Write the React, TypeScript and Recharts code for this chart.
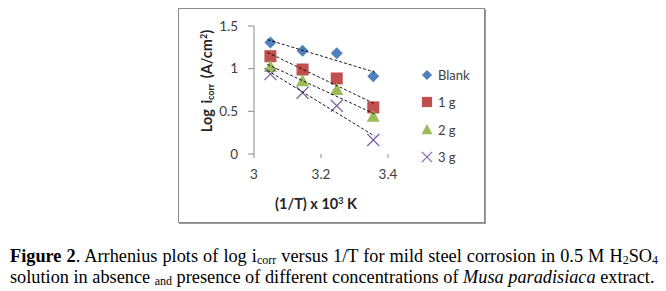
import { ScatterChart, Scatter, XAxis, YAxis, Legend } from 'recharts';

// 1/T (x 10^3 K^-1)
const invT = [3.049, 3.145, 3.247, 3.356];

// log i_corr
const blank = [1.306, 1.21, 1.18, 0.91];
const g1 = [1.146, 0.99, 0.885, 0.546];
const g2 = [1.02, 0.853, 0.75, 0.436];
const g3 = [0.936, 0.717, 0.565, 0.164];

// linear trendline ends
const trendX = [3.04, 3.36];
const blankTrend = [1.34, 0.96];
const g1Trend = [1.19, 0.59];
const g2Trend = [1.05, 0.47];
const g3Trend = [0.98, 0.21];

const xTicks = [3, 3.2, 3.4];
const yTicks = [0, 0.5, 1, 1.5];

const BLUE = '#4f81bd';
const RED = '#c0504d';
const GREEN = '#9bbb59';
const PURPLE = '#8064a2';

const chartFont = 'Lato, "Open Sans", sans-serif';

const toPoints = (xs: number[], ys: number[]) => xs.map((x, i) => ({ x, y: ys[i] }));

type MarkProps = { cx?: number; cy?: number };

const Diamond = ({ cx = 0, cy = 0 }: MarkProps) => (
  <polygon
    points={`${cx},${cy - 6} ${cx + 6},${cy} ${cx},${cy + 6} ${cx - 6},${cy}`}
    fill={BLUE}
  />
);
const Square = ({ cx = 0, cy = 0 }: MarkProps) => (
  <rect x={cx - 6} y={cy - 6} width={12} height={12} fill={RED} />
);
const Triangle = ({ cx = 0, cy = 0 }: MarkProps) => (
  <polygon
    points={`${cx},${cy - 7} ${cx + 6.5},${cy + 5} ${cx - 6.5},${cy + 5}`}
    fill={GREEN}
  />
);
const Cross = ({ cx = 0, cy = 0 }: MarkProps) => (
  <g stroke={PURPLE} strokeWidth={1.3}>
    <line x1={cx - 6} y1={cy - 6} x2={cx + 6} y2={cy + 6} />
    <line x1={cx - 6} y1={cy + 6} x2={cx + 6} y2={cy - 6} />
  </g>
);
const NoMark = () => <g />;

const legendItems = [
  { name: 'Blank', Mark: Diamond },
  { name: '1 g', Mark: Square },
  { name: '2 g', Mark: Triangle },
  { name: '3 g', Mark: Cross },
];

function LegendBox() {
  return (
    <div style={{ fontFamily: chartFont, fontSize: 13, color: '#404040' }}>
      {legendItems.map(({ name, Mark }) => (
        <div key={name} style={{ display: 'flex', alignItems: 'center', height: 27.5 }}>
          <svg width={16} height={16} style={{ marginRight: 3 }}>
            <g transform="translate(1.2 1.2) scale(0.85)">
              <Mark cx={8} cy={8} />
            </g>
          </svg>
          <span>{name}</span>
        </div>
      ))}
    </div>
  );
}

const trendLine = { stroke: '#000', strokeWidth: 0.9, strokeDasharray: '3 2' };
const subStyle = { fontSize: 12, verticalAlign: -2, lineHeight: 0 };
const titleStyle = {
  position: 'absolute' as const,
  whiteSpace: 'nowrap' as const,
  fontFamily: chartFont,
  fontWeight: 'bold' as const,
  fontSize: 14.5,
  color: '#262626',
};

export default function App() {
  return (
    <div style={{ position: 'absolute', left: 0, top: 0, width: 666, height: 291, background: '#fff' }}>
      <div
        style={{
          position: 'absolute',
          left: 178,
          top: 8,
          width: 305,
          height: 213,
          border: '1px solid #8a8a8a',
          boxShadow: '1px 1px 0 #9a9a9a',
        }}
      />
      <div style={{ position: 'absolute', left: 0, top: 0 }}>
        <ScatterChart
          width={666}
          height={225}
          margin={{ top: 26, right: 278, left: 204, bottom: 41 }}
        >
          <XAxis
            type="number"
            dataKey="x"
            domain={[3, 3.4]}
            ticks={xTicks}
            axisLine={false}
            tickLine={{ stroke: '#8a8a8a' }}
            tickSize={4}
            tickMargin={11}
            height={30}
            tick={{ fill: '#404040', fontSize: 13.5, fontFamily: chartFont }}
          />
          <YAxis
            type="number"
            dataKey="y"
            domain={[0, 1.5]}
            ticks={yTicks}
            axisLine={{ stroke: '#8a8a8a' }}
            tickLine={{ stroke: '#8a8a8a' }}
            tickSize={6}
            tickMargin={10}
            width={50}
            tick={{ fill: '#404040', fontSize: 13.5, fontFamily: chartFont }}
          />
          <Legend
            layout="vertical"
            align="center"
            verticalAlign="middle"
            content={() => <LegendBox />}
            wrapperStyle={{ position: 'absolute', left: 419, top: 61, width: 70 }}
          />
          <Scatter name="Blank" data={toPoints(invT, blank)} shape={<Diamond />} isAnimationActive={false} />
          <Scatter name="1 g" data={toPoints(invT, g1)} shape={<Square />} isAnimationActive={false} />
          <Scatter name="2 g" data={toPoints(invT, g2)} shape={<Triangle />} isAnimationActive={false} />
          <Scatter name="3 g" data={toPoints(invT, g3)} shape={<Cross />} isAnimationActive={false} />
          <Scatter legendType="none" data={toPoints(trendX, blankTrend)} line={trendLine} shape={<NoMark />} isAnimationActive={false} />
          <Scatter legendType="none" data={toPoints(trendX, g1Trend)} line={trendLine} shape={<NoMark />} isAnimationActive={false} />
          <Scatter legendType="none" data={toPoints(trendX, g2Trend)} line={trendLine} shape={<NoMark />} isAnimationActive={false} />
          <Scatter legendType="none" data={toPoints(trendX, g3Trend)} line={trendLine} shape={<NoMark />} isAnimationActive={false} />
        </ScatterChart>
      </div>
      <div
        style={{
          ...titleStyle,
          left: 207,
          top: 81,
          transform: 'translate(-50%, -50%) rotate(-90deg)',
          wordSpacing: 2,
        }}
      >
        Log i<sub style={{ fontSize: 9, verticalAlign: -2 }}>corr</sub> (A/cm<sup style={{ fontSize: 9, verticalAlign: 5 }}>2</sup>)
      </div>
      <div
        style={{
          ...titleStyle,
          left: 316,
          top: 203,
          transform: 'translate(-50%, -50%)',
        }}
      >
        (1/T) x 10<sup style={{ fontSize: 9, verticalAlign: 5 }}>3</sup> K
      </div>
      <div
        style={{
          position: 'absolute',
          left: 10,
          top: 246,
          width: 648,
          fontFamily: '"Liberation Serif", "Times New Roman", serif',
          fontSize: 18.3,
          lineHeight: '21px',
          color: '#000',
          whiteSpace: 'nowrap',
        }}
      >
        <div style={{ wordSpacing: 0.5 }}>
          <b>Figure 2</b>. Arrhenius plots of log i<sub style={subStyle}>corr</sub> versus 1/T for mild
          steel corrosion in 0.5 M H<sub style={subStyle}>2</sub>SO<sub style={subStyle}>4</sub>
        </div>
        <div>
          solution in absence <sub style={subStyle}>and</sub> presence of different concentrations of{' '}
          <i>Musa paradisiaca</i> extract.
        </div>
      </div>
    </div>
  );
}
